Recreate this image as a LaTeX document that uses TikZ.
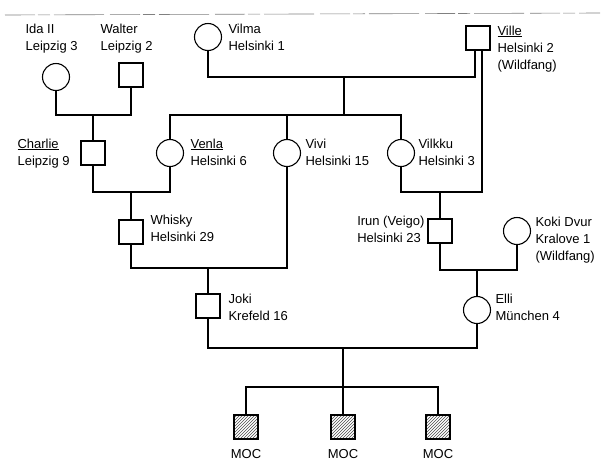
\documentclass[tikz,border=0pt]{standalone}
\usepackage{fontspec}
\setmainfont{Liberation Sans}
\usetikzlibrary{patterns}
\begin{document}
\begin{tikzpicture}[x=1pt,y=-1pt,
  line width=1.1pt,
  fem/.style={draw,circle,minimum size=27pt,inner sep=0pt},
  mal/.style={draw,rectangle,minimum size=24pt,inner sep=0pt},
  aff/.style={mal,pattern=north east lines,pattern color=black!70},
  lab/.style={anchor=base west,align=left,inner sep=0pt,font=\fontsize{13}{17}\selectfont},
  labc/.style={anchor=base,inner sep=0pt,font=\fontsize{13}{17}\selectfont},
  scan/.style={line width=0.6pt,black!50,dash pattern=on 30pt off 3pt on 12pt off 4pt on 50pt off 6pt}
]
\useasboundingbox (0,0) rectangle (603,472);
\coordinate (t1) at (5,15);
\coordinate (t2) at (600,13);
\draw[scan] (t1) -- (t2);

% nodes
\node[fem] (ida) at (56,77) {};
\node[mal] (walter) at (131,75) {};
\node[fem] (vilma) at (208,37) {};
\node[mal] (ville) at (478,38) {};
\node[mal] (charlie) at (93,153) {};
\node[fem] (venla) at (170,153) {};
\node[fem] (vivi) at (287,153) {};
\node[fem] (vilkku) at (401,153) {};
\node[mal] (whisky) at (131,232) {};
\node[mal] (joki) at (208,306) {};
\node[mal] (irun) at (440,231) {};
\node[fem] (koki) at (517,231) {};
\node[fem] (elli) at (477,310) {};
\node[aff] (moc1) at (246,427) {};
\node[aff] (moc2) at (343,427) {};
\node[aff] (moc3) at (438,427) {};

% labels (anchored at the baseline of the last line)
\node[lab] (lida) at (25,50) {Ida II\\Leipzig 3};
\node[lab] (lwalter) at (100,50) {Walter\\Leipzig 2};
\node[lab] (lvilma) at (228,50) {Vilma\\Helsinki 1};
\node[lab] (lville) at (497,69) {\underline{Ville}\\Helsinki 2\\(Wildfang)};
\node[lab] (lcharlie) at (17,165) {\underline{Charlie}\\Leipzig 9};
\node[lab] (lvenla) at (190,165) {\underline{Venla}\\Helsinki 6};
\node[lab] (lvivi) at (305,165) {Vivi\\Helsinki 15};
\node[lab] (lvilkku) at (418,165) {Vilkku\\Helsinki 3};
\node[lab] (lwhisky) at (150,241) {Whisky\\Helsinki 29};
\node[lab] (ljoki) at (228,320) {Joki\\Krefeld 16};
\node[lab,anchor=base east] (lirun) at (425,242) {Irun (Veigo)\\Helsinki 23};
\node[lab] (lkoki) at (535,260) {Koki Dvur\\Kralove 1\\(Wildfang)};
\node[lab] (lelli) at (495,320) {Elli\\München 4};
\node[labc] (lm1) at (246,458) {MOC};
\node[labc] (lm2) at (343,458) {MOC};
\node[labc] (lm3) at (438,458) {MOC};

% Ida x Walter
\coordinate (m1) at (93,115);
\draw (ida.south) |- (m1) -| (walter.south);
\draw (m1) -- (charlie.north);

% Vilma x Ville
\coordinate (m2) at (344,77);
\coordinate (s2) at (344,115);
\draw (vilma.south) |- (m2) -| ([xshift=-3pt]ville.south);
\draw (m2) -- (s2);
\draw (venla.north) |- (s2) -| (vilkku.north);
\draw (vivi.north) -- (vivi.north |- s2);

% Charlie x Venla
\coordinate (m3) at (131,192);
\draw (charlie.south) |- (m3) -| (venla.south);
\draw (m3) -- (whisky.north);

% Whisky x Vivi
\coordinate (m4) at (208,268);
\draw (whisky.south) |- (m4) -| (vivi.south);
\draw (m4) -- (joki.north);

% Vilkku x Ville
\coordinate (m5) at (440,192);
\draw (vilkku.south) |- (m5) -| ([xshift=4pt]ville.south);
\draw (m5) -- (irun.north);

% Irun x Koki
\coordinate (m6) at (477,270);
\draw (irun.south) |- (m6) -| (koki.south);
\draw (m6) -- (elli.north);

% Joki x Elli
\coordinate (m7) at (343,348);
\coordinate (s7) at (343,387);
\draw (joki.south) |- (m7) -| (elli.south);
\draw (m7) -- (s7);
\draw (moc1.north) |- (s7) -| (moc3.north);
\draw (s7) -- (moc2.north);
\end{tikzpicture}
\end{document}
